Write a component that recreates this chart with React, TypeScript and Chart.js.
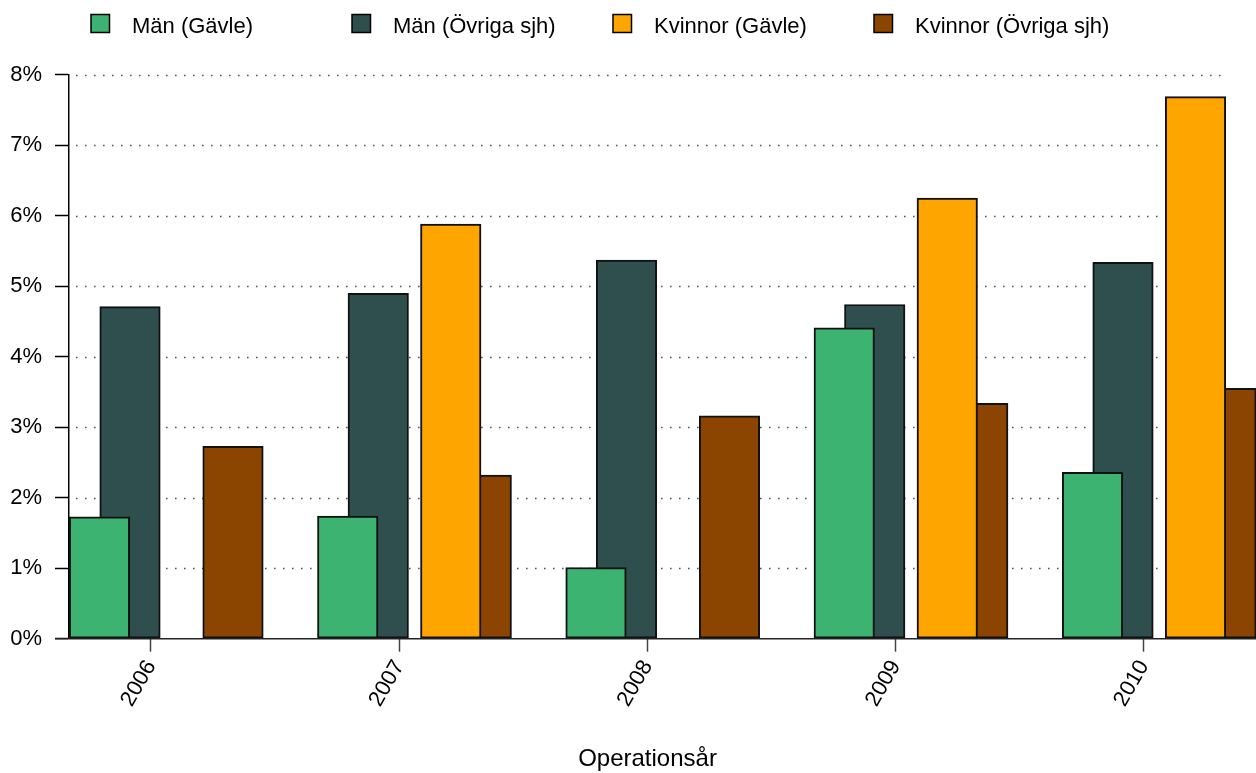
import { useEffect, useRef } from "react";
import { Chart, registerables } from "chart.js";

Chart.register(...registerables);

// ---- data ----
const years = [2006, 2007, 2008, 2009, 2010];
const yTickValues = [0, 1, 2, 3, 4, 5, 6, 7, 8];
const seriesLabels = ["Män (Gävle)", "Män (Övriga sjh)", "Kvinnor (Gävle)", "Kvinnor (Övriga sjh)"];
const menGavle = [1.73, 1.74, 1.01, 4.41, 2.36];
const menOvriga = [4.71, 4.9, 5.37, 4.74, 5.34];
const kvinnorGavle = [0, 5.88, 0, 6.25, 7.69];
const kvinnorOvriga = [2.73, 2.32, 3.16, 3.34, 3.55];
const xTitle = "Operationsår";

// ---- style / layout ----
const COLORS = ["#3CB371", "#2F4F4F", "#FFA500", "#8B4500"];
const OFFSETS = [-0.2075, -0.0846, 0.2075, 0.3303];
const FONT = '"Liberation Sans", Arial, Helvetica, sans-serif';
const W = 1256;
const H = 773;

const decorPlugin = {
  id: "decor",
  beforeDatasetsDraw(chart: any) {
    const { ctx, chartArea, scales } = chart;
    const ys = scales.y;
    ctx.save();
    ctx.strokeStyle = "#555";
    ctx.lineWidth = 1.6;
    ctx.setLineDash([1.6, 7.4]);
    for (const t of yTickValues) {
      if (t === 0) continue;
      const py = Math.round(ys.getPixelForValue(t)) + 0.5;
      ctx.beginPath();
      ctx.moveTo(chartArea.left + 7, py);
      ctx.lineTo(chartArea.right - 29, py);
      ctx.stroke();
    }
    ctx.restore();
  },
  afterDatasetsDraw(chart: any) {
    const { ctx, chartArea, scales } = chart;
    const py = scales.y.getPixelForValue(0);
    ctx.save();
    ctx.strokeStyle = "#222";
    ctx.lineWidth = 1.5;
    ctx.beginPath();
    ctx.moveTo(chartArea.left - 14, py);
    ctx.lineTo(chartArea.right, py);
    ctx.stroke();
    ctx.restore();
  },
  afterDraw(chart: any) {
    const { ctx } = chart;
    ctx.save();
    // legend
    ctx.font = `22px ${FONT}`;
    ctx.textAlign = "left";
    ctx.textBaseline = "alphabetic";
    chart.data.datasets.forEach((ds: any, i: number) => {
      const x = 91 + 261 * i;
      ctx.fillStyle = ds.backgroundColor;
      ctx.fillRect(x, 14.5, 18.5, 18);
      ctx.strokeStyle = "#000";
      ctx.lineWidth = 1.5;
      ctx.strokeRect(x, 14.5, 18.5, 18);
      ctx.fillStyle = "#000";
      ctx.fillText(ds.label, x + 41, 32.5);
    });
    // x title
    ctx.font = `24px ${FONT}`;
    ctx.textAlign = "center";
    ctx.fillText(xTitle, 647.5, 766);
    ctx.restore();
  },
};

export default function App() {
  const ref = useRef<HTMLCanvasElement | null>(null);

  useEffect(() => {
    if (!ref.current) return;
    const series = [menGavle, menOvriga, kvinnorGavle, kvinnorOvriga];
    const chart = new Chart(ref.current, {
      type: "bar",
      data: {
        datasets: series.map((vals, k) => ({
          label: seriesLabels[k],
          data: years.map((yr, i) => ({ x: yr + OFFSETS[k], y: vals[i] })),
          backgroundColor: COLORS[k],
          borderColor: "#111",
          borderWidth: 2,
          borderSkipped: false,
          grouped: false,
          barThickness: 60.5,
        })),
      },
      options: {
        responsive: false,
        animation: false,
        devicePixelRatio: 1,
        layout: { padding: { top: 74.7, left: 0, right: 0, bottom: 0 } },
        plugins: {
          legend: { display: false },
          tooltip: { enabled: false },
          title: { display: false },
        },
        scales: {
          x: {
            type: "linear",
            offset: false,
            min: 2005.6697,
            max: 2010.4512,
            afterBuildTicks: (s: any) => {
              s.ticks = years.map((v) => ({ value: v }));
            },
            afterFit: (s: any) => {
              s.height = H - 638.7;
            },
            ticks: {
              autoSkip: false,
              minRotation: 60,
              maxRotation: 60,
              padding: 4,
              color: "#000",
              font: { family: FONT, size: 22 },
              callback: (v: any) => String(v),
            },
            grid: {
              offset: false,
              drawOnChartArea: false,
              drawTicks: true,
              tickLength: 13,
              tickColor: "#444",
              tickWidth: 1.5,
            },
            border: { display: false },
          },
          y: {
            type: "linear",
            min: 0,
            max: 8,
            afterBuildTicks: (s: any) => {
              s.ticks = yTickValues.map((v) => ({ value: v }));
            },
            afterFit: (s: any) => {
              s.width = 69;
            },
            ticks: {
              padding: 13,
              color: "#000",
              font: { family: FONT, size: 22 },
              callback: (v: any) => `${v}%`,
            },
            grid: {
              drawOnChartArea: false,
              drawTicks: true,
              tickLength: 14,
              tickColor: "#000",
              tickWidth: 1.5,
            },
            border: { display: true, color: "#000", width: 1.5 },
          },
        },
      },
      plugins: [decorPlugin],
    } as any);
    return () => chart.destroy();
  }, []);

  return (
    <div style={{ position: "fixed", left: 0, top: 0, width: W, height: H, background: "#fff" }}>
      <canvas ref={ref} width={W} height={H} style={{ display: "block", width: W, height: H }} />
    </div>
  );
}
